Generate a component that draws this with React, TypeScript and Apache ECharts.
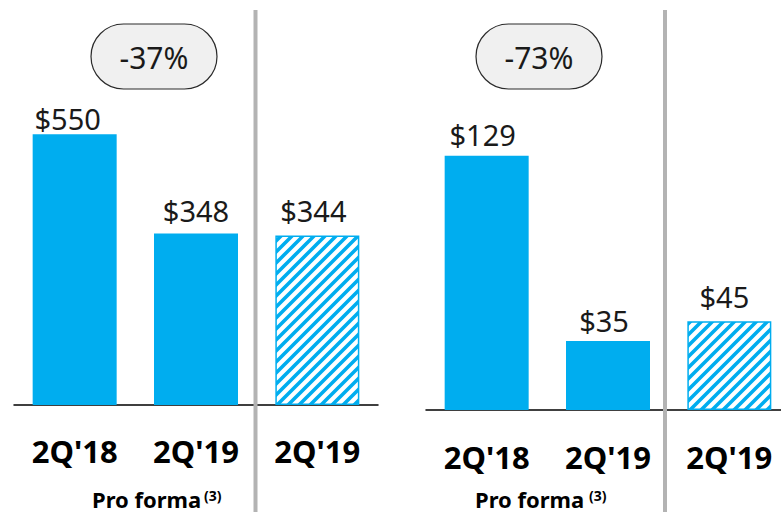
import React, { useEffect, useRef } from "react";
import * as echarts from "echarts";

const categories = ["2Q'18", "2Q'19", "2Q'19"];
const leftValues = [550, 348, 344];
const rightValues = [129, 35, 45];
const changeLabels = ["-37%", "-73%"];
const footnoteLabel = "Pro forma";
const footnoteMark = "(3)";

const BLUE = "#00adef";
const FONT = "'Noto Sans', 'Open Sans', sans-serif";

function makeHatch(): string {
  const p = 11;
  const c = document.createElement("canvas");
  c.width = p;
  c.height = p;
  const ctx = c.getContext("2d")!;
  ctx.fillStyle = "#ffffff";
  ctx.fillRect(0, 0, p, p);
  ctx.strokeStyle = BLUE;
  ctx.lineWidth = 3.6;
  ctx.beginPath();
  for (const k of [0, p, 2 * p]) {
    ctx.moveTo(-p, k + p);
    ctx.lineTo(k + p, -p);
  }
  ctx.stroke();
  return c.toDataURL();
}

export default function App() {
  const ref = useRef<HTMLDivElement>(null);
  useEffect(() => {
    if (!ref.current) return;
    const chart = echarts.init(ref.current, undefined, { renderer: "svg" });
    const hatch = makeHatch();
    const hatchStyle = {
      color: { image: hatch, repeat: "repeat", imageWidth: 11, imageHeight: 11 },
      borderColor: BLUE,
      borderWidth: 1.5,
    };
    const solidStyle = { color: BLUE };
    const tweaks = [
      [[-7, 6], [0, -1.5], [-4, -3.5]],
      [[-4, 0], [-4, 1], [-5, -3]],
    ];
    const panels = [
      { values: leftValues, left: 14, top: 11, max: 800, margin: 30 },
      { values: rightValues, left: 426, top: 16, max: 200, margin: 31 },
    ];
    const grids = panels.map((p) => ({
      left: p.left,
      width: 364,
      top: p.top,
      height: 394,
      outerBoundsMode: "none",
      containLabel: false,
    }));
    const xAxes = panels.map((p, i) => ({
      type: "category",
      gridIndex: i,
      data: categories,
      axisTick: { show: false },
      axisLine: { lineStyle: { color: "#000", width: 1.5 } },
      axisLabel: {
        interval: 0,
        margin: p.margin,
        fontSize: 31,
        fontWeight: "bold",
        color: "#000",
        fontFamily: FONT,
      },
    }));
    const yAxes = panels.map((p, i) => ({
      type: "value",
      gridIndex: i,
      min: 0,
      max: p.max,
      show: false,
      splitLine: { show: false },
    }));
    const series = panels.map((p, i) => ({
      type: "bar",
      xAxisIndex: i,
      yAxisIndex: i,
      barWidth: 84,
      data: p.values.map((v, j) => ({
        value: v,
        itemStyle: j === 2 ? hatchStyle : solidStyle,
        label: { offset: tweaks[i][j] },
      })),
      label: {
        show: true,
        position: "top",
        distance: 7,
        fontSize: 29,
        color: "#1a1a1a",
        fontFamily: FONT,
        formatter: (q: any) => "$" + q.value,
      },
    }));

    const pill = (x: number, text: string) => ({
      type: "group",
      children: [
        {
          type: "rect",
          shape: { x, y: 24, width: 126, height: 65, r: 32.5 },
          style: { fill: "#f0f0f0", stroke: "#2a2a2a", lineWidth: 1.2 },
        },
        {
          type: "text",
          x: x + 63,
          y: 57,
          style: {
            text,
            fontSize: 30,
            fontFamily: FONT,
            fill: "#1a1a1a",
            align: "center",
            verticalAlign: "middle",
          },
        },
      ],
    });
    const sep = (x: number) => ({
      type: "line",
      z: 100,
      shape: { x1: x, y1: 10, x2: x, y2: 512 },
      style: { stroke: "#b3b3b3", lineWidth: 4 },
    });
    const foot = (x: number, xm: number) => ({
      type: "group",
      children: [
        {
          type: "text",
          x,
          y: 498.5,
          style: {
            text: footnoteLabel,
            fontSize: 22,
            fontWeight: "bold",
            fontFamily: FONT,
            fill: "#000",
            align: "left",
            verticalAlign: "middle",
          },
        },
        {
          type: "text",
          x: xm,
          y: 495.5,
          style: {
            text: footnoteMark,
            fontSize: 14,
            fontWeight: "bold",
            fontFamily: FONT,
            fill: "#000",
            align: "left",
            verticalAlign: "middle",
          },
        },
      ],
    });

    chart.setOption({
      animation: false,
      backgroundColor: "#ffffff",
      grid: grids,
      xAxis: xAxes,
      yAxis: yAxes,
      series,
      graphic: [
        sep(255.5),
        sep(665),
        pill(91, changeLabels[0]),
        pill(476, changeLabels[1]),
        foot(92, 204),
        foot(475, 589),
      ],
    } as any);
    return () => chart.dispose();
  }, []);
  return (
    <div
      ref={ref}
      style={{ position: "absolute", left: 0, top: 0, width: 781, height: 512 }}
    />
  );
}
